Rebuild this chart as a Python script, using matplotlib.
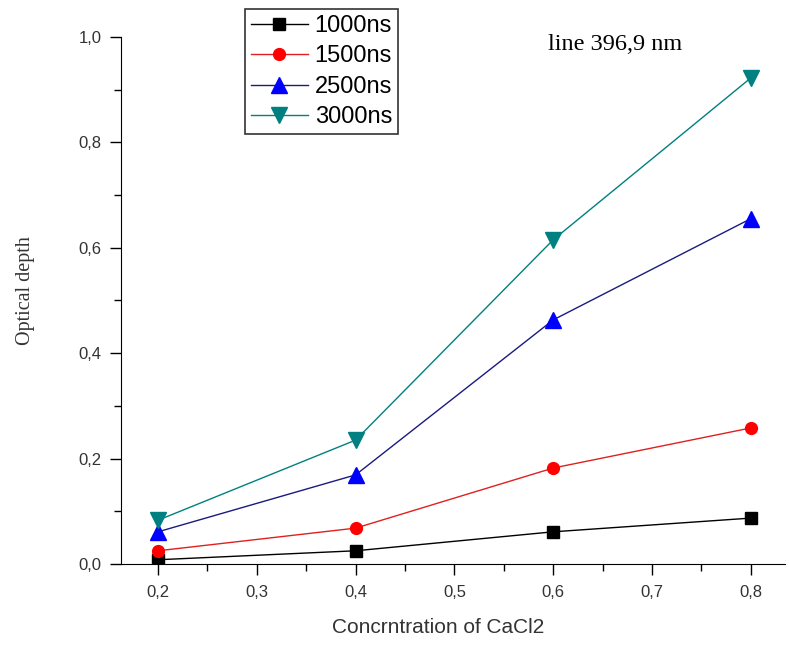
import matplotlib
matplotlib.use('Agg')
import matplotlib.pyplot as plt
from matplotlib.ticker import MultipleLocator, FuncFormatter

# concentration of CaCl2
conc = [0.2, 0.4, 0.6, 0.8]

# optical depth per delay time
od_1000 = [0.008, 0.025, 0.061, 0.087]
od_1500 = [0.025, 0.068, 0.182, 0.258]
od_2500 = [0.061, 0.169, 0.463, 0.655]
od_3000 = [0.083, 0.235, 0.615, 0.922]

labels = ['1000ns', '1500ns', '2500ns', '3000ns']

plt.rcParams['font.family'] = ['Liberation Sans', 'DejaVu Sans']

fig = plt.figure(figsize=(7.89, 6.46), dpi=100)
ax = fig.add_axes([0.1534, 0.127, 0.842, 0.816])

ax.plot(conc, od_1000, color='black', marker='s', ms=8.5, mfc='black', mec='black',
        lw=1, label=labels[0])
ax.plot(conc, od_1500, color='#e02020', marker='o', ms=8.5, mfc='red', mec='red',
        lw=1, label=labels[1])
ax.plot(conc, od_2500, color='#1a1a80', marker='^', ms=11, mfc='blue', mec='blue',
        lw=1, label=labels[2])
ax.plot(conc, od_3000, color='#008080', marker='v', ms=11, mfc='#008080', mec='#008080',
        lw=1, label=labels[3])

ax.set_xlim(0.1625, 0.835)
ax.set_ylim(0.0, 1.0)

ax.spines['top'].set_visible(False)
ax.spines['right'].set_visible(False)

comma = FuncFormatter(lambda v, p: ('%.1f' % v).replace('.', ','))
ax.xaxis.set_major_locator(MultipleLocator(0.1))
ax.xaxis.set_minor_locator(MultipleLocator(0.05))
ax.yaxis.set_major_locator(MultipleLocator(0.2))
ax.yaxis.set_minor_locator(MultipleLocator(0.1))
ax.xaxis.set_major_formatter(comma)
ax.yaxis.set_major_formatter(comma)

ax.tick_params(which='major', direction='out', length=8, width=1, labelsize=12,
               labelcolor='#333333')
ax.tick_params(which='minor', direction='out', length=5, width=1)
ax.tick_params(axis='x', pad=7)
ax.tick_params(axis='y', pad=6)

ax.set_xlabel('Concrntration of CaCl2', fontsize=15, color='#333333')
ax.xaxis.set_label_coords(0.478, -0.102)
ax.set_ylabel('Optical depth', fontsize=14.5, family='Liberation Serif', color='#333333')
ax.yaxis.set_label_coords(-0.13, 0.518)

ax.text(0.642, 0.975, 'line 396,9 nm', fontsize=17.5, family='Liberation Serif',
        va='baseline', transform=ax.transAxes)

leg = ax.legend(loc='upper left', bbox_to_anchor=(0.3105, 0.986),
                bbox_transform=fig.transFigure, fontsize=17,
                frameon=True, fancybox=False, edgecolor='black', borderpad=0.25,
                handlelength=2.4, handletextpad=0.3, labelspacing=0.36,
                borderaxespad=0)
leg.get_frame().set_linewidth(1.2)
leg.set_zorder(5)

fig.savefig('out.png', dpi=100)
